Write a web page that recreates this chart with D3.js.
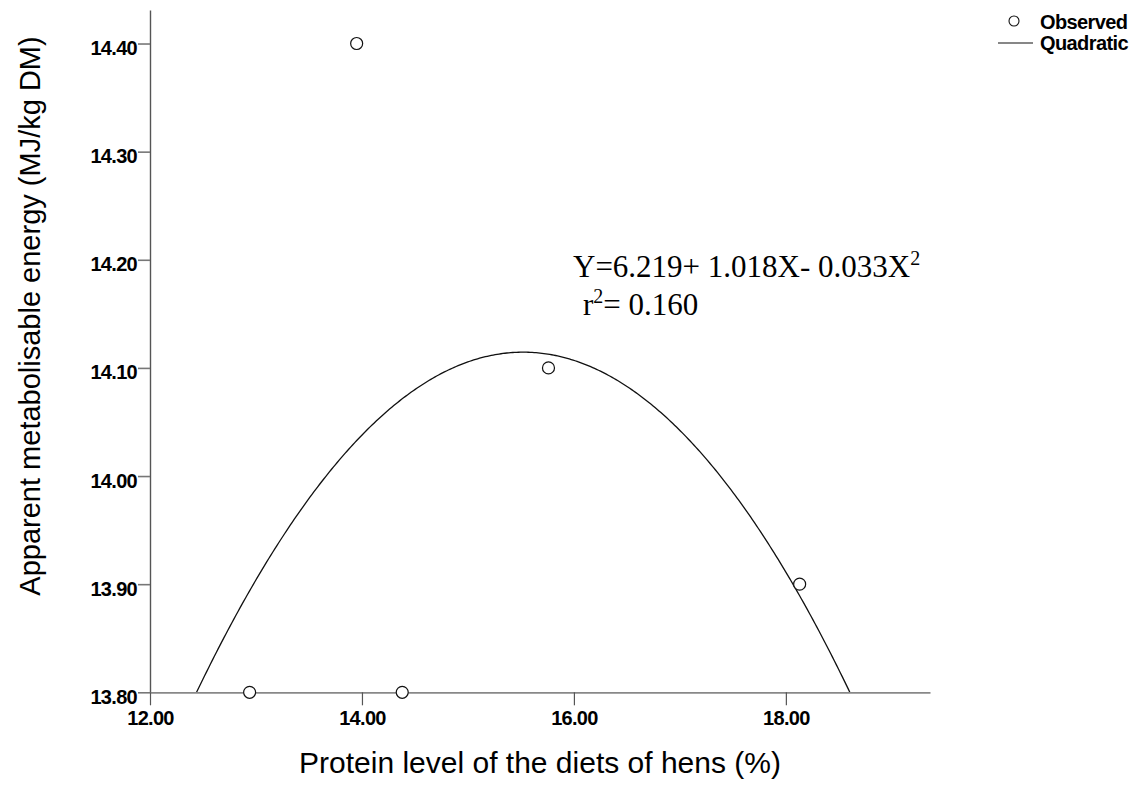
<!DOCTYPE html>
<html>
<head>
<meta charset="utf-8">
<script src="https://cdn.jsdelivr.net/npm/d3@7/dist/d3.min.js"></script>
<style>
  html, body { margin: 0; padding: 0; background: #fff; }
  svg { display: block; }
</style>
</head>
<body>
<svg id="chart" width="1132" height="785"></svg>
<script>
// Observed diets: protein level (%) and apparent metabolisable energy (MJ/kg DM)
const proteinLevel = [12.94, 13.95, 14.38, 15.76, 18.13];
const energyObserved = [13.80, 14.40, 13.80, 14.10, 13.90];

// Axis ticks
const xTicks = [12, 14, 16, 18];
const yTicks = [13.80, 13.90, 14.00, 14.10, 14.20, 14.30, 14.40];

// Axis extents
const xDomain = [12, 19.36];
const yDomain = [13.80, 14.431];

// Fit annotation
const equationParts = ["Y=6.219+ 1.018X- 0.033X", "2"];
const rSquaredParts = ["r", "2", "= 0.160"];

const legendItems = ["Observed", "Quadratic"];

const svg = d3.select("#chart");
const plot = { left: 150, right: 930, top: 10, bottom: 692.3 };

const x = d3.scaleLinear().domain(xDomain).range([plot.left, plot.right]);
const y = d3.scaleLinear().domain(yDomain).range([plot.bottom, plot.top]);

// Least-squares quadratic fit of the observed points
function quadFit(xs, ys) {
  const n = xs.length;
  const s = [0, 0, 0, 0, 0], t = [0, 0, 0];
  for (let i = 0; i < n; i++) {
    let p = 1;
    for (let k = 0; k <= 4; k++) { s[k] += p; if (k <= 2) t[k] += p * ys[i]; p *= xs[i]; }
  }
  const A = [[s[0], s[1], s[2], t[0]], [s[1], s[2], s[3], t[1]], [s[2], s[3], s[4], t[2]]];
  for (let c = 0; c < 3; c++) {
    for (let r = c + 1; r < 3; r++) {
      const f = A[r][c] / A[c][c];
      for (let k = c; k < 4; k++) A[r][k] -= f * A[c][k];
    }
  }
  const b = [0, 0, 0];
  for (let r = 2; r >= 0; r--) {
    let v = A[r][3];
    for (let k = r + 1; k < 3; k++) v -= A[r][k] * b[k];
    b[r] = v / A[r][r];
  }
  return b; // [b0, b1, b2]
}
const coef = quadFit(proteinLevel, energyObserved);
const fitted = d3.range(xDomain[0], xDomain[1] + 1e-9, (xDomain[1] - xDomain[0]) / 400)
  .map(v => [v, coef[0] + coef[1] * v + coef[2] * v * v]);

svg.append("clipPath").attr("id", "plot-clip")
  .append("rect")
  .attr("x", plot.left).attr("y", plot.top)
  .attr("width", plot.right - plot.left).attr("height", plot.bottom - plot.top);

// Quadratic curve
svg.append("path")
  .datum(fitted)
  .attr("clip-path", "url(#plot-clip)")
  .attr("fill", "none")
  .attr("stroke", "#111")
  .attr("stroke-width", 1.3)
  .attr("d", d3.line().x(d => x(d[0])).y(d => y(d[1])));

// Axes
const tickFont = "'Liberation Sans', Arial, sans-serif";

const yAxis = svg.append("g")
  .attr("transform", `translate(${plot.left},0)`)
  .call(d3.axisLeft(y).tickValues(yTicks).tickFormat(d3.format(".2f"))
    .tickSize(12).tickSizeOuter(0).tickPadding(1));
yAxis.select(".domain").attr("stroke", "#555").attr("stroke-width", 1.4);
yAxis.selectAll(".tick line").attr("stroke", "#777").attr("stroke-width", 1.6);
yAxis.selectAll(".tick text")
  .attr("dy", 11)
  .style("font-family", tickFont).style("font-weight", "bold")
  .style("font-size", "20px").style("letter-spacing", "-0.7px")
  .attr("fill", "#000");

const xAxis = svg.append("g")
  .attr("transform", `translate(0,${plot.bottom})`)
  .call(d3.axisBottom(x).tickValues(xTicks).tickFormat(d3.format(".2f"))
    .tickSize(13).tickSizeOuter(0));
xAxis.select(".domain").attr("stroke", "#888").attr("stroke-width", 1.8);
xAxis.selectAll(".tick line").attr("stroke", "#555").attr("stroke-width", 1.2);
xAxis.selectAll(".tick text")
  .attr("y", 33).attr("dy", 0)
  .style("font-family", tickFont).style("font-weight", "bold")
  .style("font-size", "20px").style("letter-spacing", "-0.7px")
  .attr("fill", "#000");

// Observed points
svg.append("g")
  .selectAll("circle")
  .data(proteinLevel.map((p, i) => [p, energyObserved[i]]))
  .join("circle")
  .attr("cx", d => x(d[0]))
  .attr("cy", d => y(d[1]))
  .attr("r", 6)
  .attr("fill", "#fff")
  .attr("stroke", "#111")
  .attr("stroke-width", 1.2);

// Axis titles
svg.append("text")
  .attr("x", (plot.left + plot.right) / 2)
  .attr("y", 773)
  .attr("text-anchor", "middle")
  .style("font-family", tickFont)
  .style("font-size", "30px")
  .text("Protein level of the diets of hens (%)");

svg.append("text")
  .attr("transform", "translate(40,316) rotate(-90)")
  .attr("text-anchor", "middle")
  .style("font-family", tickFont)
  .style("font-size", "29px")
  .text("Apparent metabolisable energy (MJ/kg DM)");

// Fit annotation
const serif = "'Liberation Serif', 'Times New Roman', serif";
const eq = svg.append("text")
  .attr("x", 573).attr("y", 277)
  .style("font-family", serif).style("font-size", "31px");
eq.append("tspan").text(equationParts[0]);
eq.append("tspan").attr("dy", -12).style("font-size", "20px").text(equationParts[1]);

const r2 = svg.append("text")
  .attr("x", 583).attr("y", 315)
  .style("font-family", serif).style("font-size", "31px");
r2.append("tspan").text(rSquaredParts[0]);
r2.append("tspan").attr("dy", -12).style("font-size", "20px").text(rSquaredParts[1]);
r2.append("tspan").attr("dy", 12).text(rSquaredParts[2]);

// Legend
const legend = svg.append("g").attr("class", "legend");
legend.append("circle")
  .attr("cx", 1014).attr("cy", 21).attr("r", 5)
  .attr("fill", "#fff").attr("stroke", "#111").attr("stroke-width", 1.1);
legend.append("line")
  .attr("x1", 998).attr("x2", 1033).attr("y1", 43).attr("y2", 43)
  .attr("stroke", "#111").attr("stroke-width", 1.1);
legend.selectAll("text.item")
  .data(legendItems)
  .join("text")
  .attr("class", "item")
  .attr("x", 1040)
  .attr("y", (d, i) => 29 + i * 21)
  .style("font-family", tickFont).style("font-weight", "bold")
  .style("font-size", "20px").style("letter-spacing", "-0.6px")
  .text(d => d);
</script>
</body>
</html>
